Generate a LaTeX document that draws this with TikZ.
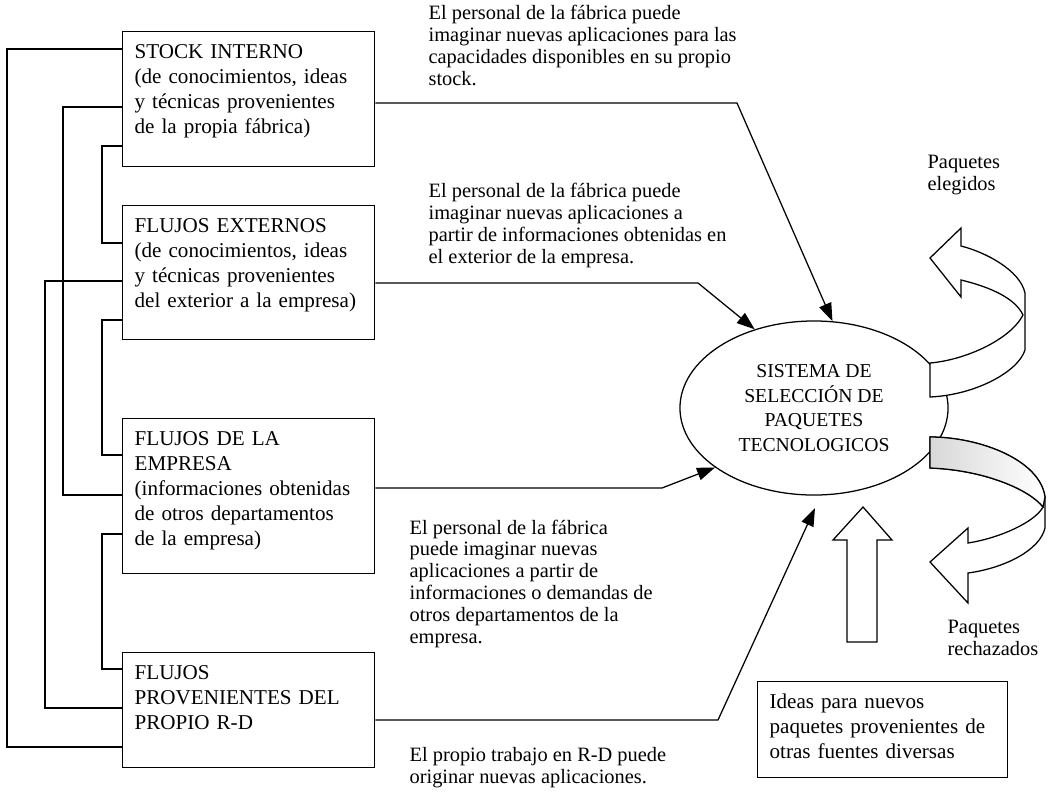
\documentclass[tikz,border=0pt]{standalone}
\usepackage{fontspec}
\setmainfont{Liberation Serif}
\usetikzlibrary{shapes.geometric,arrows.meta}
\newcommand{\boxfont}{\fontsize{15}{17.8}\selectfont}
\newcommand{\notefont}{\fontsize{14.5}{15.5}\selectfont}
\newcommand{\sisfont}{\fontsize{14}{17.4}\selectfont}
\definecolor{sombra}{HTML}{D8D8D8}

\begin{document}
\begin{tikzpicture}[x=0.025cm, y=-0.025cm, line width=0.9pt,
  caja/.style={draw, anchor=north west, align=left, text width=5.7cm, inner xsep=0.3cm, inner ysep=0.25cm, text height=0.425cm, font=\boxfont},
  nota/.style={anchor=base west, align=left, inner sep=0pt, font=\notefont},
  flecha/.style={-{Triangle[length=0.45cm, width=0.32cm]}}]
\useasboundingbox (0,0) rectangle (1054,798);

\node[caja, text depth=2.45cm] (stock) at (122,31) {STOCK INTERNO\\(de conocimientos, ideas\\y técnicas provenientes\\de la propia fábrica)};
\node[caja, text depth=2.425cm] (externos) at (122,205) {FLUJOS EXTERNOS\\(de conocimientos, ideas\\y técnicas provenientes\\del exterior a la empresa)};
\node[caja, text depth=2.95cm] (empresa) at (122,418) {FLUJOS DE LA\\EMPRESA\\(informaciones obtenidas\\de otros departamentos\\de la empresa)};
\node[caja, text depth=1.95cm] (rd) at (122,652) {FLUJOS\\PROVENIENTES DEL\\PROPIO R-D};
\node[caja, text width=5.65cm, text depth=1.475cm] (ideas) at (757,681) {Ideas para nuevos\\paquetes provenientes de\\otras fuentes diversas};

\node[draw, ellipse, minimum width=6.7cm, minimum height=4.35cm, inner sep=0pt, align=center, font=\sisfont] (sis) at (814,408) {SISTEMA DE\\SELECCIÓN DE\\PAQUETES\\TECNOLOGICOS};
\coordinate (dsis) at (815,508);

\node[nota] (nstock) at (428,85) {El personal de la fábrica puede\\imaginar nuevas aplicaciones para las\\capacidades disponibles en su propio\\stock.};
\node[nota] (nexternos) at (428,263) {El personal de la fábrica puede\\imaginar nuevas aplicaciones a\\partir de informaciones obtenidas en\\el exterior de la empresa.};
\node[nota] (nempresa) at (409,643) {El personal de la fábrica\\puede imaginar nuevas\\aplicaciones a partir de\\informaciones o demandas de\\otros departamentos de la\\empresa.};
\node[nota] (nrd) at (409,783) {El propio trabajo en R-D puede\\originar nuevas aplicaciones.};
\node[nota] (elegidos) at (927,190) {Paquetes\\elegidos};
\node[nota] (rechazados) at (947,655) {Paquetes\\rechazados};

\draw (stock.west |- 0,49) -- (7,49) |- (rd.west |- 0,747);
\draw (stock.west |- 0,107) -- (63,107) |- (empresa.west |- 0,495);
\draw (stock.west |- 0,146) -- (102,146) |- (externos.west |- 0,243);
\draw (externos.west |- 0,281) -- (45,281) |- (rd.west |- 0,708);
\draw (externos.west |- 0,320) -- (102,320) |- (empresa.west |- 0,455);
\draw (empresa.west |- 0,534) -- (102,534) |- (rd.west |- 0,669);

\draw[flecha] (stock.east |- 0,103) -- (737,103) -- (sis.78);
\draw[flecha] (externos.east |- 0,283) -- (698,283) -- (sis.127);
\draw[flecha] (empresa.east |- 0,488) -- (662,488) -- (sis.211);
\draw[flecha] (rd.east |- 0,720) -- (718,720) -- (dsis);

\draw[fill=white] (930,363) .. controls (965,360) and (1010,340) .. (1023,315)
  .. controls (1015,298) and (990,287) .. (961,280) -- (961,297) -- (930,258) -- (961,228) -- (961,246)
  .. controls (985,252) and (1020,270) .. (1025,293) -- (1025,350)
  .. controls (1018,372) and (975,395) .. (930,397) -- cycle;

\draw[fill=white] (930,437) .. controls (980,437) and (1040,460) .. (1045,497) -- (1045,528)
  .. controls (1040,550) and (1005,568) .. (968,573) -- (968,603) -- (930,562) -- (968,528) -- (968,543)
  .. controls (1000,538) and (1035,522) .. (1043,507)
  .. controls (1030,490) and (985,470) .. (930,468) -- cycle;
\draw[left color=sombra, right color=white] (930,437) .. controls (980,437) and (1040,460) .. (1045,497) -- (1043,507)
  .. controls (1030,490) and (985,470) .. (930,468) -- cycle;

\draw[fill=white] (847,642) -- (847,540) -- (833,540) -- (863,507) -- (892,540) -- (877,540) -- (877,642) -- cycle;
\end{tikzpicture}
\end{document}
